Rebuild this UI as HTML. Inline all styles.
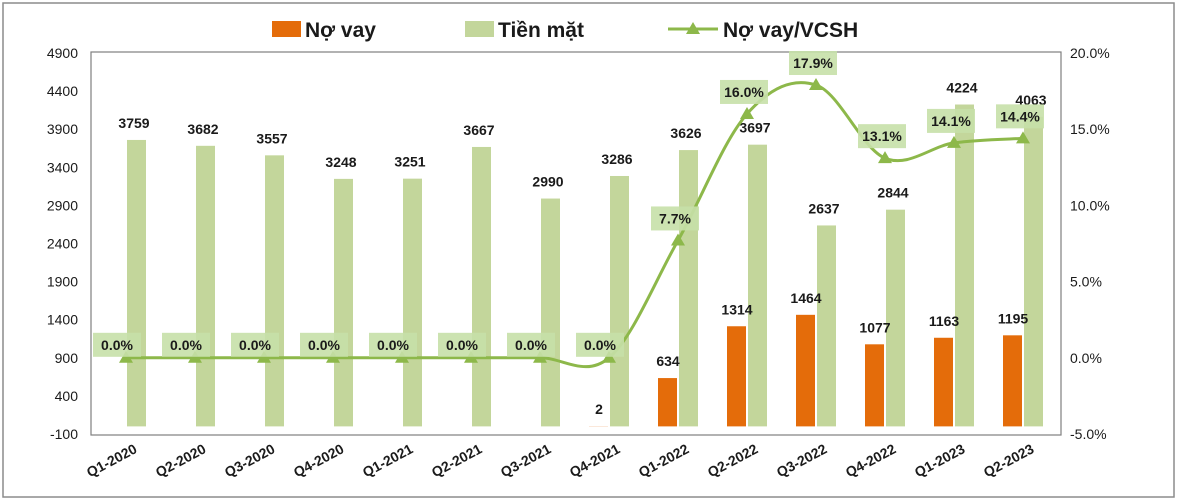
<!DOCTYPE html>
<html><head><meta charset="utf-8"><style>
body{margin:0;background:#fff;}
svg{display:block;font-family:"Liberation Sans",Arial,sans-serif;}
</style></head><body>
<svg id="chart" width="1178" height="501" viewBox="0 0 1178 501">
<rect x="3" y="3" width="1171" height="494" fill="#fff" stroke="#8c8c8c" stroke-width="1.5"/>
<g>
<rect x="272" y="21" width="29" height="16" fill="#e46c0a"/>
<text x="305" y="37" font-size="21" font-weight="bold" fill="#1a1a1a">Nợ vay</text>
<rect x="465" y="21" width="29" height="16" fill="#c3d69b"/>
<text x="498" y="37" font-size="21" font-weight="bold" fill="#1a1a1a">Tiền mặt</text>
<line x1="668" y1="29" x2="718" y2="29" stroke="#8db84a" stroke-width="3"/>
<polygon points="693,22 700,34 686,34" fill="#8db84a"/>
<text x="723" y="37" font-size="21" font-weight="bold" fill="#1a1a1a">Nợ vay/VCSH</text>
</g>
<rect x="91" y="52" width="970" height="383" fill="none" stroke="#7f7f7f" stroke-width="1.2"/>
<g id="yl"></g>
<g id="yr"></g>
<g id="bars"></g>
<g id="barlabels"></g>
<g id="line"></g>
<g id="xl"></g>
</svg>
<script>
const categories=["Q1-2020","Q2-2020","Q3-2020","Q4-2020","Q1-2021","Q2-2021","Q3-2021","Q4-2021","Q1-2022","Q2-2022","Q3-2022","Q4-2022","Q1-2023","Q2-2023"];
const debt=[null,null,null,null,null,null,null,2,634,1314,1464,1077,1163,1195];
const cash=[3759,3682,3557,3248,3251,3667,2990,3286,3626,3697,2637,2844,4224,4063];
const ratio=[0,0,0,0,0,0,0,0,7.7,16.0,17.9,13.1,14.1,14.4];
const leftTicks=[4900,4400,3900,3400,2900,2400,1900,1400,900,400,-100];
const rightTicks=[20,15,10,5,0,-5];
const NS="http://www.w3.org/2000/svg";
function el(tag,attrs,parent,txt){const e=document.createElementNS(NS,tag);for(const k in attrs)e.setAttribute(k,attrs[k]);if(txt!=null)e.textContent=txt;parent.appendChild(e);return e;}
const yTop=53,yBot=434;
function yL(v){return yTop+(4900-v)*(yBot-yTop)/5000;}
function yR(p){return yTop+(20-p)*(yBot-yTop)/25;}
function xC(i){return 126+i*69;}
const yl=document.getElementById('yl'),yr=document.getElementById('yr'),bars=document.getElementById('bars'),bl=document.getElementById('barlabels'),line=document.getElementById('line'),xl=document.getElementById('xl');
leftTicks.forEach(t=>{const e=el('text',{x:78,y:yL(t)+5,'font-size':14,'text-anchor':'end',fill:'#1a1a1a'},yl,String(t));

});
rightTicks.forEach(t=>{const e=el('text',{x:1070,y:yR(t)+5,'font-size':14,fill:'#1a1a1a'},yr,t.toFixed(1)+'%');

});
categories.forEach((c,i)=>{const x=xC(i);
if(debt[i]!=null){const b=el('rect',{x:x-20,y:yL(debt[i]),width:19,height:yL(0)-yL(debt[i]),fill:'#e46c0a'},bars);


const t=el('text',{x:x-10,y:yL(debt[i])-12,'font-size':14,'font-weight':'bold','text-anchor':'middle',fill:'#1a1a1a'},bl,String(debt[i]));

}
const g=el('rect',{x:x+1,y:yL(cash[i]),width:19,height:yL(0)-yL(cash[i]),fill:'#c3d69b'},bars);


const t2=el('text',{x:x+8,y:yL(cash[i])-12,'font-size':14,'font-weight':'bold','text-anchor':'middle',fill:'#1a1a1a'},bl,String(cash[i]));


const xt=el('text',{x:x+12,y:452,'font-size':14,'font-weight':'bold','text-anchor':'end',fill:'#1a1a1a',transform:'rotate(-28 '+(x+12)+' 452)'},xl,c);


});
const pts=ratio.map((r,i)=>[xC(i),yR(r)]);
let d='M'+pts[0][0]+','+pts[0][1];
for(let i=0;i<pts.length-1;i++){const p0=pts[Math.max(i-1,0)],p1=pts[i],p2=pts[i+1],p3=pts[Math.min(i+2,pts.length-1)];
const k=0.17;
d+=' C'+(p1[0]+(p2[0]-p0[0])*k)+','+(p1[1]+(p2[1]-p0[1])*k)+' '+(p2[0]-(p3[0]-p1[0])*k)+','+(p2[1]-(p3[1]-p1[1])*k)+' '+p2[0]+','+p2[1];}
const path=el('path',{d:d,fill:'none',stroke:'#8db84a','stroke-width':3},line);


pts.forEach((p,i)=>{const m=el('polygon',{points:(p[0])+','+(p[1]-7)+' '+(p[0]+7)+','+(p[1]+5)+' '+(p[0]-7)+','+(p[1]+5),fill:'#8db84a'},line);


const cx=i<8?p[0]-9:p[0]-3, cy=i<8?p[1]-13:p[1]-22;
const bg=el('rect',{x:cx-24,y:cy-12,width:48,height:24,fill:'#c6e0a8',opacity:0.9},line);


const t=el('text',{x:cx,y:cy+5,'font-size':14,'font-weight':'bold','text-anchor':'middle',fill:'#1a1a1a'},line,ratio[i].toFixed(1)+'%');

});
</script>
</body></html>
